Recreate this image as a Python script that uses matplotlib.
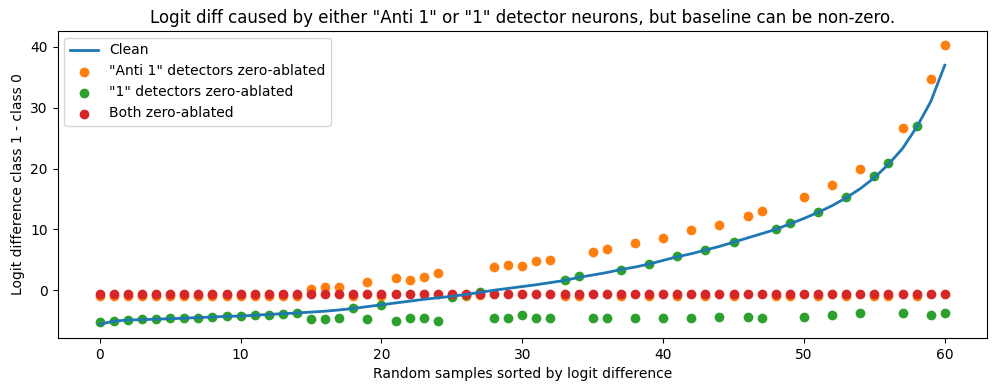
import numpy as np
import matplotlib
matplotlib.use("Agg")
import matplotlib.pyplot as plt

clean = [-5.6, -5.1, -4.9, -4.85, -4.75, -4.7, -4.6, -4.5, -4.4, -4.3,
         -4.25, -4.1, -4.0, -3.85, -3.75, -3.6, -3.45, -3.25, -3.0, -2.7,
         -2.4, -2.1, -1.8, -1.5, -1.25, -1.0, -0.7, -0.35, 0.0, 0.3,
         0.6, 0.9, 1.25, 1.6, 2.1, 2.5, 2.9, 3.4, 3.8, 4.3,
         4.9, 5.5, 6.0, 6.6, 7.2, 7.9, 8.6, 9.3, 10.0, 10.9,
         11.8, 12.8, 13.9, 15.2, 16.7, 18.5, 20.7, 23.3, 26.8, 31.0, 37.0]

anti1_ablated = [-1.0, -1.0, -1.0, -1.0, -1.0, -1.0, -1.0, -1.0, -1.0, -1.0,
                 -1.0, -1.0, -1.0, -1.0, -1.0, 0.2, 0.55, 0.55, -1.0, 1.3,
                 -1.0, 2.0, 1.6, 2.2, 2.8, -1.0, -1.0, -0.8, 3.8, 4.1,
                 4.0, 4.75, 5.0, -1.0, -1.0, 6.3, 6.85, -1.0, 7.8, -1.0,
                 8.55, -1.0, 9.9, -1.0, 10.75, -1.0, 12.25, 13.0, -1.0, -1.0,
                 15.4, -1.0, 17.3, -1.0, 20.0, -1.0, -1.0, 26.6, -1.0, 34.7, 40.35]

one_ablated = [-5.3, -5.0, -4.85, -4.8, -4.7, -4.65, -4.6, -4.5, -4.4, -4.3,
               -4.25, -4.1, -4.0, -3.85, -3.7, -4.7, -4.8, -4.5, -2.9, -4.8,
               -2.4, -5.0, -4.5, -4.65, -5.0, -1.1, -0.85, -0.3, -4.65, -4.65,
               -4.1, -4.5, -4.5, 1.6, 2.3, -4.5, -4.5, 3.4, -4.6, 4.3,
               -4.5, 5.6, -4.65, 6.6, -4.35, 7.95, -4.35, -4.5, 10.0, 11.0,
               -4.35, 12.8, -4.1, 15.3, -3.8, 18.7, 20.9, -3.8, 27.0, -4.0, -3.8]

both_ablated = [-0.55] * 61

x = np.arange(len(clean))

fig, ax = plt.subplots(figsize=(9.97, 3.91), dpi=100)
ax.plot(x, clean, color="#1f77b4", linewidth=2, label="Clean")
ax.scatter(x, anti1_ablated, color="#ff7f0e", label='"Anti 1" detectors zero-ablated')
ax.scatter(x, one_ablated, color="#2ca02c", label='"1" detectors zero-ablated')
ax.scatter(x, both_ablated, color="#d62728", label="Both zero-ablated")
ax.set_title('Logit diff caused by either "Anti 1" or "1" detector neurons, but baseline can be non-zero.')
ax.set_xlabel("Random samples sorted by logit difference")
ax.set_ylabel("Logit difference class 1 - class 0")
ax.legend(loc="upper left")
fig.subplots_adjust(left=0.0577, right=0.990, top=0.921, bottom=0.135)
fig.savefig("out.png", dpi=100)
